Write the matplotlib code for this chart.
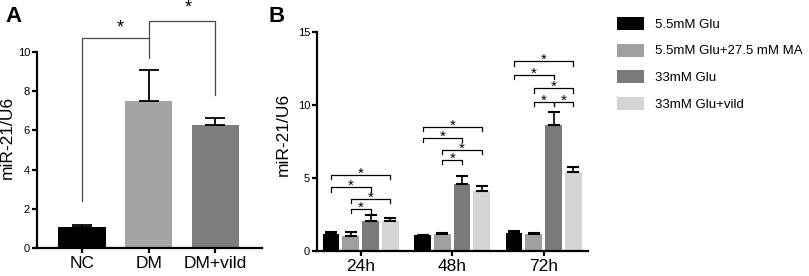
import matplotlib
matplotlib.use("Agg")
import matplotlib.pyplot as plt
import numpy as np

plt.rcParams['font.family'] = ['Liberation Sans', 'DejaVu Sans']

# ---------------- data ----------------
a_categories = ["NC", "DM", "DM+vild"]
a_means = [1.05, 7.5, 6.25]
a_err = [0.12, 1.6, 0.4]
a_colors = ["#000000", "#a4a4a4", "#7e7e7e"]

b_times = ["24h", "48h", "72h"]
b_series = ["5.5mM Glu", "5.5mM Glu+27.5 mM MA", "33mM Glu", "33mM Glu+vild"]
b_glu55 = [1.17, 1.10, 1.21]
b_glu55_err = [0.12, 0.02, 0.15]
b_ma = [1.05, 1.16, 1.16]
b_ma_err = [0.27, 0.10, 0.08]
b_glu33 = [2.05, 4.59, 8.65]
b_glu33_err = [0.40, 0.55, 0.87]
b_vild = [2.05, 4.13, 5.43]
b_vild_err = [0.19, 0.30, 0.30]
b_colors = ["#000000", "#a0a0a0", "#7a7a7a", "#d4d4d4"]

# significance brackets panel B: (time index, series i, series j, height)
b_brackets = [
    (0, 0, 3, 5.2), (0, 0, 2, 4.36), (0, 1, 3, 3.56), (0, 1, 2, 2.88),
    (1, 0, 3, 8.51), (1, 0, 2, 7.76), (1, 1, 3, 6.92), (1, 1, 2, 6.23),
    (2, 0, 3, 13.0), (2, 0, 2, 12.05), (2, 1, 3, 11.14), (2, 1, 2, 10.2), (2, 2, 3, 10.2),
]

W, H = 809, 276
fig = plt.figure(figsize=(W / 100, H / 100), dpi=100)

def style_axis(ax):
    for s in ["top", "right"]:
        ax.spines[s].set_visible(False)
    for s in ["left", "bottom"]:
        ax.spines[s].set_linewidth(1.6)
    ax.tick_params(axis="both", width=1.6, length=3.5, color="black")
    ax.tick_params(axis="y", labelsize=8, pad=1.5)
    ax.tick_params(axis="x", labelsize=12.5, pad=2.5)

# ---------------- Panel A ----------------
axA = fig.add_axes([37 / W, 28 / H, 225 / W, 196 / H])
xa = np.arange(len(a_categories))
axA.bar(xa, a_means, width=0.71, color=a_colors, zorder=2)
axA.errorbar(xa, a_means, yerr=[np.zeros(3), a_err], fmt="none", ecolor="black",
             elinewidth=1.3, capsize=7, capthick=1.3, zorder=3)
axA.set_xlim(-0.675, 2.70)
axA.set_ylim(0, 10)
axA.set_yticks([0, 2, 4, 6, 8, 10])
axA.set_xticks(xa)
axA.set_xticklabels(a_categories)
axA.set_ylabel("miR-21/U6", fontsize=12.5)
axA.yaxis.set_label_coords(-0.097, 0.565)
style_axis(axA)

bc = "#4a4a4a"
# NC vs DM
axA.plot([0, 0, 1, 1], [2.4, 10.7, 10.7, 9.7], color=bc, lw=0.9, clip_on=False)
axA.text(0.58, 10.7 + 0.3, "*", ha="center", va="baseline", fontsize=13, clip_on=False)
# DM vs DM+vild
axA.plot([1, 1, 2, 2], [10.7, 11.58, 11.58, 7.8], color=bc, lw=0.9, clip_on=False)
axA.text(1.6, 11.58 + 0.45, "*", ha="center", va="baseline", fontsize=13, clip_on=False)

fig.text(5 / W, 1 - 22 / H, "A", fontsize=16, fontweight="bold", ha="left", va="baseline")

# ---------------- Panel B ----------------
axB = fig.add_axes([317 / W, 25 / H, 271 / W, 219 / H])
xb = np.arange(len(b_times))
pitch = 0.216
bw = 0.183
b_vals = [b_glu55, b_ma, b_glu33, b_vild]
b_errs = [b_glu55_err, b_ma_err, b_glu33_err, b_vild_err]
handles = []
for k in range(4):
    pos = xb + (k - 1.5) * pitch
    h = axB.bar(pos, b_vals[k], width=bw, color=b_colors[k], zorder=2, label=b_series[k])
    handles.append(h)
    axB.errorbar(pos, b_vals[k], yerr=[np.zeros(3), b_errs[k]], fmt="none", ecolor="black",
                 elinewidth=1.2, capsize=4, capthick=1.5, zorder=3)
axB.set_xlim(-0.478, 2.484)
axB.set_ylim(0, 15)
axB.set_yticks([0, 5, 10, 15])
axB.set_xticks(xb)
axB.set_xticklabels(b_times)
axB.set_ylabel("miR-21/U6", fontsize=12.5)
axB.yaxis.set_label_coords(-0.095, 0.53)
style_axis(axB)

leg = 0.3
for (g, i, j, hgt) in b_brackets:
    x1 = g + (i - 1.5) * pitch
    x2 = g + (j - 1.5) * pitch
    axB.plot([x1, x1, x2, x2], [hgt - leg, hgt, hgt, hgt - leg], color="black", lw=0.9,
             clip_on=False, zorder=4)
    axB.annotate("*", xy=((x1 + x2) / 2, hgt), xytext=(0, -2), textcoords="offset points",
                 ha="center", va="baseline", fontsize=11)

fig.text(268 / W, 1 - 22 / H, "B", fontsize=16, fontweight="bold", ha="left", va="baseline")

fig.legend(handles, b_series, loc="upper left", bbox_to_anchor=(617 / W, 1 - 17 / H),
           frameon=False, fontsize=9.5, handlelength=2.05, handleheight=1.14,
           labelspacing=0.95, handletextpad=0.85, borderpad=0, borderaxespad=0)

fig.savefig("out.png", dpi=100)
